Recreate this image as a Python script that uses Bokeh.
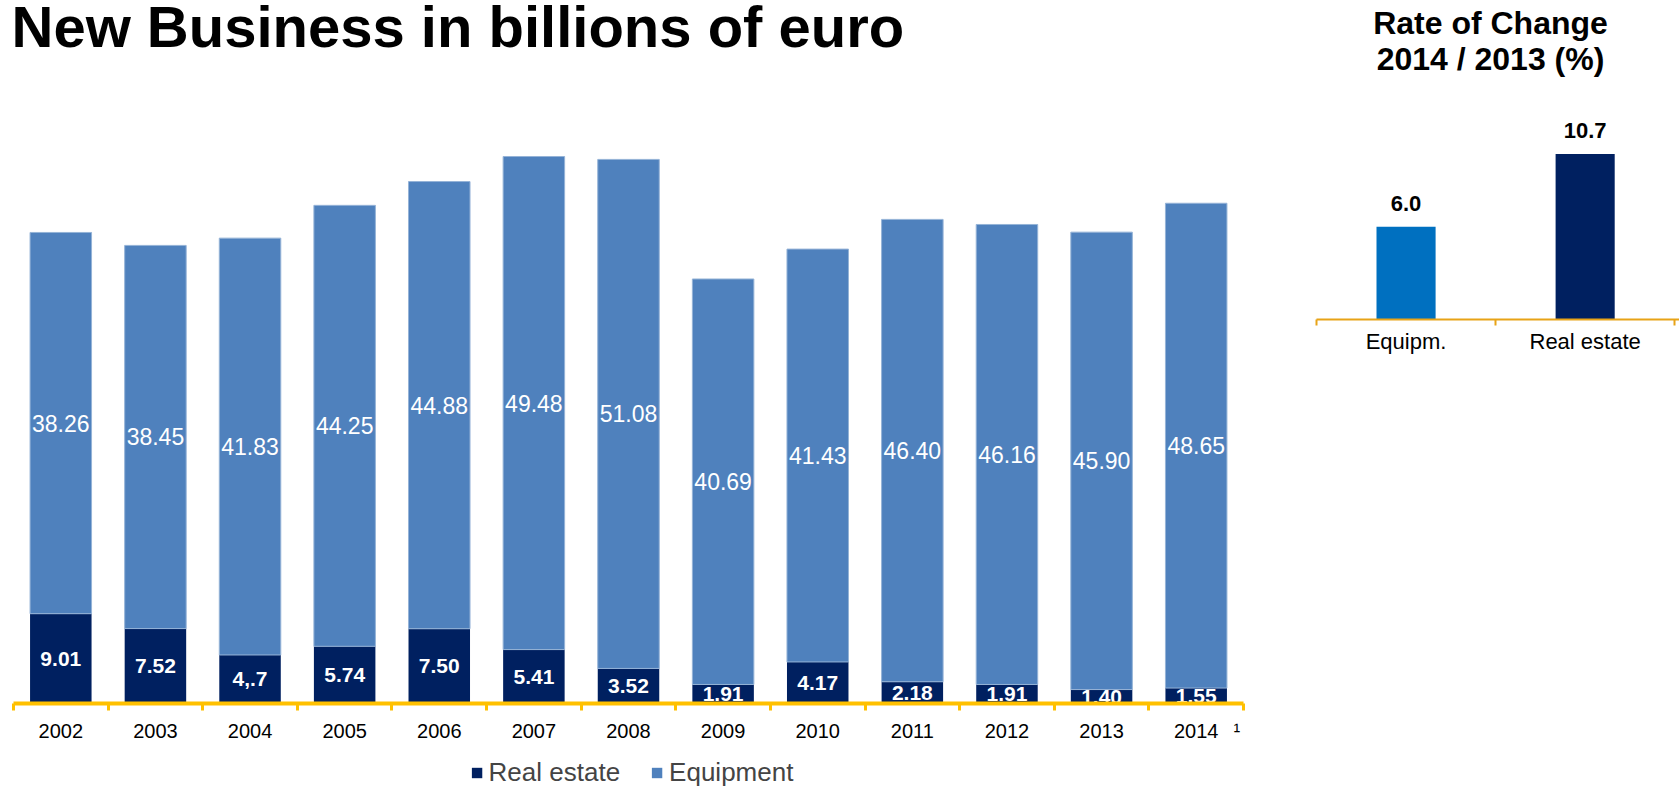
from bokeh.plotting import figure
from bokeh.models import (Range1d, LinearAxis, FixedTicker,
                          ColumnDataSource, Legend, LegendItem, Label)
from bokeh.core.properties import value
from bokeh.layouts import row, column
from bokeh.embed import file_html
from bokeh.resources import INLINE

# ---------------- data ----------------
years = ["2002", "2003", "2004", "2005", "2006", "2007", "2008",
         "2009", "2010", "2011", "2012", "2013", "2014"]
real_estate = [9.01, 7.52, 4.87, 5.74, 7.50, 5.41, 3.52, 1.91, 4.17, 2.18, 1.91, 1.40, 1.55]
real_estate_labels = ["9.01", "7.52", "4,.7", "5.74", "7.50", "5.41", "3.52",
                      "1.91", "4.17", "2.18", "1.91", "1.40", "1.55"]
equipment = [38.26, 38.45, 41.83, 44.25, 44.88, 49.48, 51.08, 40.69, 41.43, 46.40, 46.16, 45.90, 48.65]
equipment_labels = ["38.26", "38.45", "41.83", "44.25", "44.88", "49.48", "51.08",
                    "40.69", "41.43", "46.40", "46.16", "45.90", "48.65"]
series_names = ["Real estate", "Equipment"]
footnote_year = "2014"
footnote_mark = "\u00b9"

rate_categories = ["Equipm.", "Real estate"]
rate_values = [6.0, 10.7]
rate_labels = ["6.0", "10.7"]

# ---------------- styles ----------------
FONT = "Liberation Sans"
C_RE = "#002060"
C_EQ = "#4F81BD"
C_EQ_EDGE = "#95B3D7"
C_GOLD = "#FFC000"
C_GOLD2 = "#E8A317"
rate_colors = ["#0070C0", "#002060"]

# ---------------- left chart ----------------
n = len(years)
PX_L = 9.965                      # pixels per billion
FRAME_H = 703
FRAME_W = 1230
LEFT_W = 13 + FRAME_W + 20
Y_MAX = FRAME_H / PX_L
p = figure(frame_width=FRAME_W, frame_height=FRAME_H,
           x_range=Range1d(0, n), y_range=Range1d(0, Y_MAX),
           output_backend="svg", toolbar_location=None,
           x_axis_location=None, y_axis_location=None,
           min_border_left=13, min_border_right=20, min_border_top=0,
           min_border_bottom=48, outline_line_color=None)
p.grid.visible = False

xc = [i + 0.5 for i in range(n)]
totals = [r + e for r, e in zip(real_estate, equipment)]
src = ColumnDataSource(dict(
    x=xc, re=real_estate, top=totals,
    re_mid=[r / 2 for r in real_estate],
    eq_mid=[r + e / 2 for r, e in zip(real_estate, equipment)],
    re_lab=real_estate_labels, eq_lab=equipment_labels))

p.vbar(x="x", bottom=0, top="re", width=0.65, source=src,
       fill_color=C_RE, line_color=None)
p.vbar(x="x", bottom="re", top="top", width=0.65, source=src,
       fill_color=C_EQ, line_color=C_EQ_EDGE, line_width=1)

p.text(x="x", y="eq_mid", text="eq_lab", source=src, text_color="white",
       text_font=value(FONT), text_font_size="23px",
       text_align="center", text_baseline="middle")
p.text(x="x", y="re_mid", text="re_lab", source=src, text_color="white",
       text_font=value(FONT), text_font_size="21px", text_font_style="bold",
       text_align="center", text_baseline="middle")

foot_x = years.index(footnote_year) + 0.93
year_ticks = xc + [foot_x]
year_text = {x: y for x, y in zip(xc, years)}
year_text[foot_x] = footnote_mark
year_axis = LinearAxis(ticker=FixedTicker(ticks=year_ticks, minor_ticks=list(range(n + 1))),
                       major_label_overrides=year_text,
                       axis_line_color=C_GOLD, axis_line_width=4,
                       major_tick_line_color=None, major_tick_out=7, major_tick_in=0,
                       minor_tick_line_color=C_GOLD, minor_tick_line_width=3,
                       minor_tick_out=7, minor_tick_in=0,
                       major_label_text_font=FONT, major_label_text_font_size="20px",
                       major_label_text_color="black", major_label_standoff=9)
p.add_layout(year_axis, "below")

p.add_layout(Label(x=0, y=Y_MAX - (45 - 19) / PX_L, x_offset=-2,
                   text="New Business in billions of euro",
                   text_font=FONT, text_font_size="58px", text_font_style="bold",
                   text_color="black", text_baseline="alphabetic"))

# ---------------- legend strip under the left chart ----------------
leg = figure(frame_width=LEFT_W, frame_height=38,
             x_range=Range1d(0, 1), y_range=Range1d(0, 1),
             output_backend="svg", toolbar_location=None,
             x_axis_location=None, y_axis_location=None,
             min_border=0, outline_line_color=None)
leg.grid.visible = False
# zero-height swatch renderers: they only provide the legend glyphs
g_re = leg.vbar(x=[0.5], bottom=[0], top=[0], width=0.01, fill_color=C_RE, line_color=None)
g_eq = leg.vbar(x=[0.5], bottom=[0], top=[0], width=0.01, fill_color=C_EQ, line_color=None)
legend = Legend(items=[LegendItem(label=series_names[0], renderers=[g_re]),
                       LegendItem(label=series_names[1], renderers=[g_eq])],
                orientation="horizontal", location="bottom_center",
                label_text_font=FONT, label_text_font_size="26px",
                glyph_width=13, glyph_height=13, label_standoff=6, spacing=30,
                padding=0, margin=1, border_line_color=None, background_fill_alpha=0)
leg.add_layout(legend)

# ---------------- right chart ----------------
PX_R = 15.47                      # pixels per percentage point
R_FRAME_H = 319
CAT_W = 179.1
R_FRAME_W = 1679 - LEFT_W - 53
R_MAX = R_FRAME_H / PX_R
X_END = R_FRAME_W / CAT_W
q = figure(frame_width=R_FRAME_W, frame_height=R_FRAME_H,
           x_range=Range1d(0, X_END), y_range=Range1d(0, R_MAX),
           output_backend="svg", toolbar_location=None,
           x_axis_location=None, y_axis_location=None,
           min_border_left=53, min_border_right=0, min_border_top=0,
           min_border_bottom=0, outline_line_color=None)
q.grid.visible = False

m = len(rate_categories)
rate_x = [i + 0.5 for i in range(m)]
rsrc = ColumnDataSource(dict(x=rate_x, top=rate_values, lab=rate_labels, color=rate_colors))
q.vbar(x="x", top="top", bottom=0, width=0.33, source=rsrc, fill_color="color", line_color=None)
q.text(x="x", y="top", text="lab", source=rsrc, y_offset=-23, text_color="black",
       text_font=value(FONT), text_font_size="22px", text_font_style="bold",
       text_align="center", text_baseline="alphabetic")

cat_axis = LinearAxis(ticker=FixedTicker(ticks=rate_x, minor_ticks=list(range(m + 1))),
                      major_label_overrides={x: c for x, c in zip(rate_x, rate_categories)},
                      axis_line_color=C_GOLD2, axis_line_width=2,
                      major_tick_line_color=None, major_tick_out=6, major_tick_in=0,
                      minor_tick_line_color=C_GOLD2, minor_tick_line_width=2,
                      minor_tick_out=6, minor_tick_in=0,
                      major_label_text_font=FONT, major_label_text_font_size="22px",
                      major_label_text_color="black", major_label_standoff=3)
q.add_layout(cat_axis, "below")

TITLE_X = (1490 - 1316) / CAT_W
q.add_layout(Label(x=TITLE_X, y=R_MAX - (33 - 11) / PX_R, text="Rate of Change",
                   text_font=FONT, text_font_size="32px", text_font_style="bold",
                   text_color="black", text_align="center", text_baseline="alphabetic"))
q.add_layout(Label(x=TITLE_X, y=R_MAX - (70 - 12) / PX_R, text="2014 / 2013 (%)",
                   text_font=FONT, text_font_size="32px", text_font_style="bold",
                   text_color="black", text_align="center", text_baseline="alphabetic"))

layout = row(column(p, leg), q)
open("out.html", "w").write(file_html(layout, INLINE))
